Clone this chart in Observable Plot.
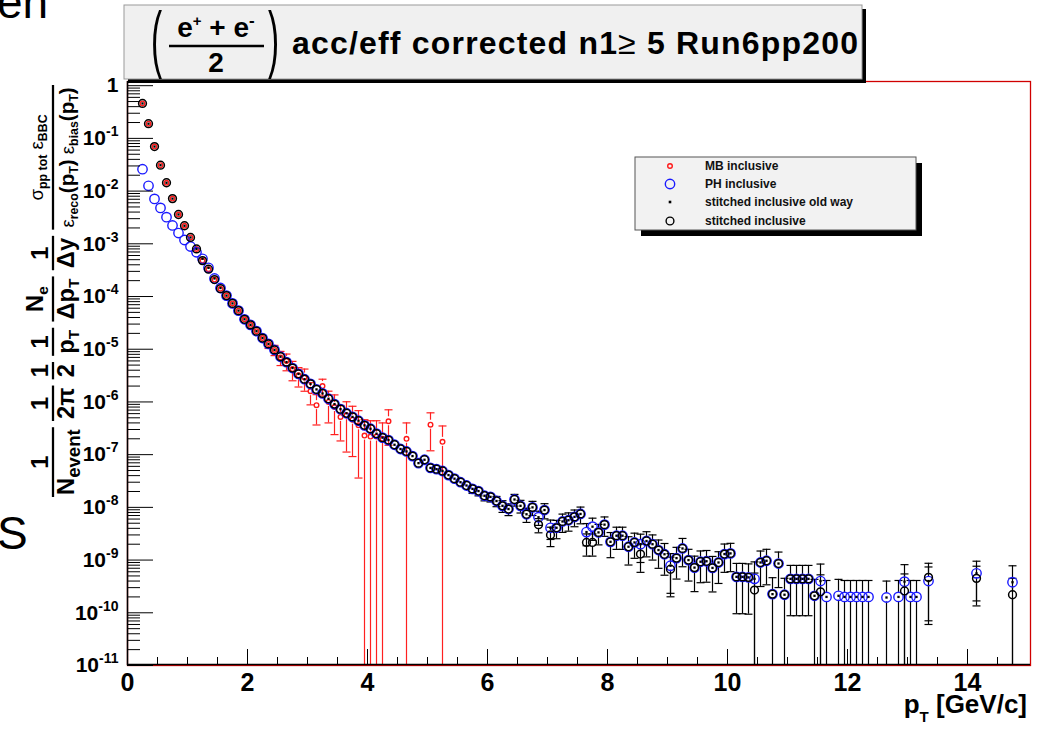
<!DOCTYPE html>
<html><head><meta charset="utf-8">
<script src="https://cdn.jsdelivr.net/npm/d3@7"></script>
<script src="https://cdn.jsdelivr.net/npm/@observablehq/plot@0.6"></script>
<style>
body{margin:0;background:#fff;}
#wrap{position:relative;width:1043px;height:729px;overflow:hidden;}
#wrap svg{position:absolute;left:0;top:0;}
</style></head><body><div id="wrap"></div>
<script>
// ---------------- data ----------------
const pt = [
0.25,0.35,0.45,0.55,0.65,0.75,0.85,0.95,1.05,1.15,
1.25,1.35,1.45,1.55,1.65,1.75,1.85,1.95,2.05,2.15,
2.25,2.35,2.45,2.55,2.65,2.75,2.85,2.95,3.05,3.15,
3.25,3.35,3.45,3.55,3.65,3.75,3.85,3.95,4.05,4.15,
4.25,4.35,4.45,4.55,4.65,4.75,4.85,4.95,5.05,5.15,
5.25,5.35,5.45,5.55,5.65,5.75,5.85,5.95,6.05,6.15,
6.25,6.35,6.45,6.55,6.65,6.75,6.85,6.95,7.05,7.15,
7.25,7.35,7.45,7.55,7.65,7.75,7.85,7.95,8.05,8.15,
8.25,8.35,8.45,8.55,8.65,8.75,8.85,8.95,9.05,9.15,
9.25,9.35,9.45,9.55,9.65,9.75,9.85,9.95,10.05,10.15,
10.25,10.35,10.45,10.55,10.65,10.75,10.85,10.95,11.05,11.15,
11.25,11.35,11.45,11.55,
11.65,11.85,11.95,12.05,12.15,12.25,12.35,12.65,12.85,12.95,13.05,13.15,13.35,14.15,14.75];

const stitchedInclusive = [
4.6e-1,1.9e-1,7.0e-2,3.1e-2,1.44e-2,7.2e-3,3.6e-3,2.2e-3,1.32e-3,8.0e-4,
4.8e-4,3.3e-4,2.1e-4,1.41e-4,1.04e-4,7.4e-5,5.4e-5,3.7e-5,2.9e-5,2.2e-5,
1.63e-5,1.26e-5,9.7e-6,7.2e-6,5.7e-6,4.4e-6,3.4e-6,2.7e-6,2.2e-6,1.73e-6,
1.45e-6,1.15e-6,9.1e-7,7.3e-7,6.1e-7,5.2e-7,4.4e-7,3.6e-7,3.1e-7,2.5e-7,
2.1e-7,1.89e-7,1.54e-7,1.28e-7,1.15e-7,9.4e-8,6.9e-8,8.0e-8,5.6e-8,5.3e-8,
4.9e-8,4.1e-8,3.5e-8,3.0e-8,2.6e-8,2.24e-8,2.04e-8,1.66e-8,1.58e-8,1.32e-8,
1.07e-8,9.3e-9,1.41e-8,1.07e-8,7.4e-9,1.0e-8,4.7e-9,8.9e-9,3.0e-9,4.1e-9,
5.4e-9,5.7e-9,6.6e-9,7.5e-9,2.16e-9,2.16e-9,3.35e-9,4.7e-9,2.22e-9,2.9e-9,
2.9e-9,1.79e-9,2.16e-9,1.3e-9,2.3e-9,2.0e-9,1.55e-9,1.29e-9,6.7e-10,1.09e-9,
1.66e-9,1.0e-9,7.2e-10,9.3e-10,9.5e-10,7.1e-10,9.0e-10,1.3e-9,1.34e-9,4.8e-10,
4.8e-10,4.7e-10,2.7e-10,9.0e-10,9.7e-10,2.26e-10,8.6e-10,2.2e-10,4.4e-10,4.4e-10,
4.4e-10,4.4e-10,2.1e-10,2.5e-10,
null,null,null,null,null,null,null,null,null,2.6e-10,null,null,4.7e-10,4.5e-10,2.2e-10];

const phInclusive = [
2.6e-2,1.26e-2,7.1e-3,4.8e-3,3.2e-3,2.23e-3,1.6e-3,1.18e-3,8.9e-4,6.9e-4,
5.2e-4,3.5e-4,2.2e-4,1.45e-4,1.04e-4,7.4e-5,5.4e-5,3.7e-5,2.9e-5,2.2e-5,
1.63e-5,1.26e-5,9.7e-6,7.2e-6,5.7e-6,4.4e-6,3.4e-6,2.7e-6,2.2e-6,1.73e-6,
1.45e-6,1.15e-6,9.1e-7,7.3e-7,6.1e-7,5.2e-7,4.4e-7,3.6e-7,3.1e-7,2.5e-7,
2.1e-7,1.89e-7,1.54e-7,1.28e-7,1.15e-7,9.4e-8,6.9e-8,8.0e-8,5.6e-8,5.3e-8,
4.9e-8,4.1e-8,3.5e-8,3.0e-8,2.6e-8,2.24e-8,2.04e-8,1.66e-8,1.58e-8,1.32e-8,
1.07e-8,9.3e-9,1.41e-8,1.07e-8,7.4e-9,1.0e-8,6.5e-9,8.9e-9,4.1e-9,4.1e-9,
5.4e-9,5.7e-9,6.6e-9,7.5e-9,3.4e-9,4.3e-9,3.35e-9,4.7e-9,2.22e-9,2.9e-9,
2.9e-9,1.79e-9,2.16e-9,2.0e-9,2.3e-9,2.0e-9,1.55e-9,1.29e-9,7.8e-10,1.09e-9,
1.66e-9,1.0e-9,7.2e-10,9.3e-10,9.5e-10,7.1e-10,9.0e-10,1.3e-9,1.34e-9,4.8e-10,
4.8e-10,4.7e-10,4.4e-10,9.0e-10,9.7e-10,2.26e-10,8.6e-10,2.2e-10,4.4e-10,4.4e-10,
4.4e-10,4.4e-10,2.1e-10,4.0e-10,
2.0e-10,2.1e-10,2.0e-10,2.0e-10,2.0e-10,2.0e-10,2.0e-10,1.95e-10,2.0e-10,3.9e-10,2.0e-10,2.0e-10,4.0e-10,5.6e-10,3.8e-10];

const stitchedOldWay = [
4.6e-1,1.9e-1,7.0e-2,3.1e-2,1.44e-2,7.2e-3,3.6e-3,2.2e-3,1.32e-3,8.0e-4,
5.2e-4,3.5e-4,2.2e-4,1.45e-4,1.04e-4,7.4e-5,5.4e-5,3.7e-5,2.9e-5,2.2e-5,
1.63e-5,1.26e-5,9.7e-6,7.2e-6,5.7e-6,4.4e-6,3.4e-6,2.7e-6,2.2e-6,1.73e-6,
1.45e-6,1.15e-6,9.1e-7,7.3e-7,6.1e-7,5.2e-7,4.4e-7,3.6e-7,3.1e-7,2.5e-7,
2.1e-7,1.89e-7,1.54e-7,1.28e-7,1.15e-7,9.4e-8,6.9e-8,8.0e-8,5.6e-8,5.3e-8,
4.9e-8,4.1e-8,3.5e-8,3.0e-8,2.6e-8,2.24e-8,2.04e-8,1.66e-8,1.58e-8,1.32e-8,
1.07e-8,9.3e-9,1.41e-8,1.07e-8,7.4e-9,1.0e-8,6.5e-9,8.9e-9,4.1e-9,4.1e-9,
5.4e-9,5.7e-9,6.6e-9,7.5e-9,3.4e-9,4.3e-9,3.35e-9,4.7e-9,2.22e-9,2.9e-9,
2.9e-9,1.79e-9,2.16e-9,2.0e-9,2.3e-9,2.0e-9,1.55e-9,1.29e-9,7.8e-10,1.09e-9,
1.66e-9,1.0e-9,7.2e-10,9.3e-10,9.5e-10,7.1e-10,9.0e-10,1.3e-9,1.34e-9,4.8e-10,
4.8e-10,4.7e-10,4.4e-10,9.0e-10,9.7e-10,2.26e-10,8.6e-10,2.2e-10,4.4e-10,4.4e-10,
4.4e-10,4.4e-10,2.1e-10,4.0e-10,
2.0e-10,2.1e-10,2.0e-10,2.0e-10,2.0e-10,2.0e-10,2.0e-10,1.95e-10,2.0e-10,3.9e-10,2.0e-10,2.0e-10,4.0e-10,5.6e-10,3.8e-10];

const mbInclusive = [
4.6e-1,1.9e-1,7.0e-2,3.1e-2,1.44e-2,7.2e-3,3.6e-3,2.2e-3,1.32e-3,8.0e-4,
4.8e-4,3.3e-4,2.1e-4,1.41e-4,1.04e-4,7.4e-5,5.4e-5,3.7e-5,2.9e-5,2.2e-5,
1.63e-5,1.26e-5,9.7e-6,7.0e-6,6.0e-6,4.2e-6,3.2e-6,2.9e-6,1.6e-6,8.7e-7,
2.0e-6,1.0e-6,8.0e-7,5.2e-7,5.6e-7,4.6e-7,3.6e-7,2.3e-7,2.2e-7,2.2e-7,
2.0e-7,4.3e-7,null,null,2.0e-7,null,null,null,3.7e-7,null,
1.75e-7,null,null,null,null,null,null,null,null,null,
null,null,null,null,null,null,null,null,null,null,
null,null,null,null,null,null,null,null,null,null,
null,null,null,null,null,null,null,null,null,null,
null,null,null,null,null,null,null,null,null,null,
null,null,null,null,null,null,null,null,null,null,
null,null,null,null,
null,null,null,null,null,null,null,null,null,null,null,null,null,null,null];

// relative errors (error / value)
const mbRelErr = [
0.01,0.01,0.01,0.01,0.01,0.01,0.01,0.01,0.01,0.01,
0.02,0.02,0.03,0.03,0.04,0.05,0.06,0.08,0.1,0.12,
0.15,0.18,0.22,0.3,0.35,0.4,0.4,0.45,0.45,0.58,
0.35,0.6,0.7,0.65,0.8,0.8,0.9,1.0,1.0,1.0,
1.0,0.65,null,null,1.0,null,null,null,0.68,null,
1.0,null,null,null,null,null,null,null,null,null,
null,null,null,null,null,null,null,null,null,null,
null,null,null,null,null,null,null,null,null,null,
null,null,null,null,null,null,null,null,null,null,
null,null,null,null,null,null,null,null,null,null,
null,null,null,null,null,null,null,null,null,null,
null,null,null,null,
null,null,null,null,null,null,null,null,null,null,null,null,null,null,null];

const stitchedRelErr = [
0.01,0.01,0.01,0.01,0.01,0.01,0.01,0.01,0.01,0.01,
0.01,0.01,0.01,0.01,0.01,0.01,0.01,0.01,0.01,0.01,
0.02,0.02,0.02,0.02,0.02,0.02,0.02,0.02,0.02,0.02,
0.03,0.03,0.04,0.04,0.05,0.05,0.05,0.06,0.06,0.07,
0.07,0.08,0.08,0.09,0.1,0.1,0.11,0.12,0.12,0.13,
0.14,0.15,0.15,0.16,0.17,0.18,0.19,0.2,0.2,0.22,
0.25,0.25,0.25,0.27,0.3,0.3,0.3,0.32,0.4,0.38,
0.38,0.38,0.35,0.35,0.45,0.45,0.42,0.4,0.5,0.45,
0.45,0.55,0.5,0.55,0.5,0.5,0.55,0.6,0.7,0.6,
0.55,0.6,0.65,0.6,0.6,0.65,0.6,0.55,0.55,0.8,
0.8,0.8,1.1,0.65,0.65,1.05,0.65,1.05,0.8,0.8,
0.8,0.8,1.05,1.1,
1.05,1.05,1.05,1.05,1.05,1.05,1.05,1.05,1.05,1.1,1.05,1.05,0.85,0.7,1.05];

const xMajorTicks = [0, 2, 4, 6, 8, 10, 12, 14];
const xMinorTicks = [0.5,1,1.5,2.5,3,3.5,4.5,5,5.5,6.5,7,7.5,8.5,9,9.5,10.5,11,11.5,12.5,13,13.5,14.5];
const yDecadeTicks = [1, 1e-1, 1e-2, 1e-3, 1e-4, 1e-5, 1e-6, 1e-7, 1e-8, 1e-9, 1e-10, 1e-11];
const legendLabels = ["MB inclusive", "PH inclusive", "stitched inclusive old way", "stitched inclusive"];

// ---------------- build ----------------
const FONT = "'Liberation Sans', Arial, Helvetica, sans-serif";
const yMin = 1e-11, yMax = 1.2;
const yMinorTicks = [];
for (const d of yDecadeTicks) for (let m = 2; m <= 9; m++) if (d * m < yMax) yMinorTicks.push(d * m);

const G = Math.pow(10, 0.085); // gap around marker for error bars
function errorBars(vals, rel, keep) {
  const segs = [], caps = [];
  pt.forEach((p, i) => {
    const v = vals[i], r = rel[i];
    if (v == null || r == null || !keep(i)) return;
    const hi = v * (1 + r);
    const lo = r >= 1 ? yMin : v * (1 - r);
    if (hi > v * G) { segs.push({pt: p, y1: v * G, y2: hi}); caps.push({pt: p, y: hi}); }
    if (lo < v / G) { segs.push({pt: p, y1: v / G, y2: lo}); if (r < 1) caps.push({pt: p, y: lo}); }
  });
  return {segs, caps};
}
const series = (vals) => pt.map((p, i) => ({pt: p, v: vals[i]})).filter(d => d.v != null);

const mbErr = errorBars(mbInclusive, mbRelErr, () => true);
const oldErr = errorBars(stitchedOldWay, stitchedRelErr, () => true);
const stErr = errorBars(stitchedInclusive, stitchedRelErr, i => stitchedInclusive[i] !== stitchedOldWay[i]);
const blackSegs = oldErr.segs.concat(stErr.segs), blackCaps = oldErr.caps.concat(stErr.caps);

const capSymbol = {draw(ctx, size) { const w = Math.sqrt(size / Math.PI); ctx.moveTo(-w, 0); ctx.lineTo(w, 0); }};
const fmtY = d => d === 1 ? "1" : "10^" + Math.round(Math.log10(d));

const chart = Plot.plot({
  width: 1043, height: 729,
  marginLeft: 127, marginRight: 13, marginTop: 81, marginBottom: 64,
  style: {fontFamily: FONT, fontWeight: "bold", background: "transparent", color: "black"},
  x: {domain: [0, 15.05]},
  y: {type: "log", domain: [yMin, yMax]},
  marks: [
    Plot.frame({stroke: "#d00000", strokeWidth: 1.3}),
    Plot.ruleX(mbErr.segs, {x: "pt", y1: "y1", y2: "y2", stroke: "#ff2020", strokeWidth: 1.2}),
    Plot.dot(mbErr.caps, {x: "pt", y: "y", symbol: capSymbol, r: 4, stroke: "#ff2020", fill: "none", strokeWidth: 1.2}),
    Plot.ruleX(blackSegs, {x: "pt", y1: "y1", y2: "y2", stroke: "black", strokeWidth: 1.2}),
    Plot.dot(blackCaps, {x: "pt", y: "y", symbol: capSymbol, r: 4, stroke: "black", fill: "none", strokeWidth: 1.2}),
    Plot.dot(series(mbInclusive), {x: "pt", y: "v", r: 2.3, stroke: "#ff1a1a", fill: "none", strokeWidth: 1.4}),
    Plot.dot(series(phInclusive), {x: "pt", y: "v", r: 4.7, stroke: "#1a1aff", fill: "none", strokeWidth: 1.4}),
    Plot.dot(series(stitchedInclusive), {x: "pt", y: "v", r: 3.9, stroke: "black", fill: "none", strokeWidth: 1.5}),
    Plot.dot(series(stitchedOldWay), {x: "pt", y: "v", symbol: "square", r: 1.3, fill: "black", stroke: "none"}),
    Plot.ruleX([0], {stroke: "black", strokeWidth: 1.5}),
    Plot.ruleY([yMin], {stroke: "black", strokeWidth: 1.5, dy: -1}),
    Plot.axisX(xMajorTicks, {tickSize: -16, tickFormat: () => "", label: null}),
    Plot.axisX(xMinorTicks, {tickSize: -8, tickFormat: () => "", label: null}),
    Plot.axisX(xMajorTicks, {tickSize: 0, tickPadding: 8, fontSize: 25, tickFormat: d => String(d), label: null}),
    Plot.axisY(yDecadeTicks, {tickSize: -26, tickFormat: () => "", label: null}),
    Plot.axisY(yMinorTicks, {tickSize: -13, tickFormat: () => "", label: null}),
    Plot.axisY(yDecadeTicks, {tickSize: 0, tickPadding: 9, fontSize: 21, tickFormat: fmtY, label: null})
  ]
});
const wrap = document.getElementById("wrap");
wrap.appendChild(chart);

// superscripts in y tick labels
chart.querySelectorAll("text").forEach(el => {
  const t = el.textContent;
  if (t.includes("^")) {
    const [b, e] = t.split("^");
    el.textContent = "";
    const s = d3.select(el);
    s.append("tspan").text(b);
    s.append("tspan").text(e).attr("font-size", 14).attr("dy", -9);
  }
});

// ---------------- overlay: title, legend, axis titles ----------------
const ov = d3.select(wrap).append("svg").attr("width", 1043).attr("height", 729)
  .style("font-family", FONT).style("pointer-events", "none");

// slide fragments
ov.append("text").attr("x", -3).attr("y", 18).attr("font-size", 46).text("en");
ov.append("text").attr("x", -3).attr("y", 549).attr("font-size", 46).text("S");

// title box
ov.append("rect").attr("x", 128).attr("y", 9).attr("width", 738).attr("height", 74).attr("fill", "black");
ov.append("rect").attr("x", 124).attr("y", 5).attr("width", 738).attr("height", 74).attr("fill", "#f0f0f0").attr("stroke", "#999").attr("stroke-width", 1);
ov.append("text").attr("transform", "translate(151,64) scale(0.45,1)").attr("font-size", 74).text("(");
ov.append("text").attr("transform", "translate(268,64) scale(0.45,1)").attr("font-size", 74).text(")");
const num = ov.append("text").attr("x", 216).attr("y", 37).attr("text-anchor", "middle").attr("font-size", 28).attr("font-weight", "bold");
num.append("tspan").text("e");
num.append("tspan").text("+").attr("font-size", 15).attr("dy", -11);
num.append("tspan").text(" + e").attr("dy", 11);
num.append("tspan").text("-").attr("font-size", 17).attr("dy", -11);
ov.append("line").attr("x1", 169).attr("x2", 264).attr("y1", 46).attr("y2", 46).attr("stroke", "black").attr("stroke-width", 2.5);
ov.append("text").attr("x", 216).attr("y", 72).attr("text-anchor", "middle").attr("font-size", 28).attr("font-weight", "bold").text("2");
const tt = ov.append("text").attr("x", 292).attr("y", 54).attr("font-size", 32).attr("font-weight", "bold")
  .attr("textLength", 566).attr("lengthAdjust", "spacing");
tt.append("tspan").text("acc/eff corrected n1");
tt.append("tspan").text("\u2265").attr("font-weight", "normal");
tt.append("tspan").text(" 5 Run6pp200");

// legend
ov.append("rect").attr("x", 641).attr("y", 163).attr("width", 281).attr("height", 73).attr("fill", "black");
ov.append("rect").attr("x", 635).attr("y", 157).attr("width", 281).attr("height", 73).attr("fill", "#f2f2f2").attr("stroke", "#555").attr("stroke-width", 1);
const rowsY = [166, 184, 202, 221];
ov.append("circle").attr("cx", 670).attr("cy", rowsY[0]).attr("r", 2.3).attr("fill", "none").attr("stroke", "#ff1a1a").attr("stroke-width", 1.4);
ov.append("circle").attr("cx", 670).attr("cy", rowsY[1]).attr("r", 4.7).attr("fill", "none").attr("stroke", "#1a1aff").attr("stroke-width", 1.4);
ov.append("rect").attr("x", 668.7).attr("y", rowsY[2] - 1.3).attr("width", 2.6).attr("height", 2.6).attr("fill", "black");
ov.append("circle").attr("cx", 670).attr("cy", rowsY[3]).attr("r", 3.9).attr("fill", "none").attr("stroke", "black").attr("stroke-width", 1.4);
legendLabels.forEach((s, i) => ov.append("text").attr("x", 705).attr("y", rowsY[i] + 4).attr("font-size", 12).attr("font-weight", "bold").attr("fill", "#111").text(s));

// x axis title
const xt = ov.append("text").attr("x", 1027).attr("y", 713).attr("text-anchor", "end").attr("font-size", 26).attr("font-weight", "bold");
xt.append("tspan").text("p");
xt.append("tspan").text("T").attr("font-size", 15).attr("dy", 9);
xt.append("tspan").text(" [GeV/c]").attr("dy", -9);

// y axis title (rotated)
const STY = {
  b: {size: 23, weight: "bold", shift: 0},
  bs: {size: 15, weight: "bold", shift: 5},
  be: {size: 18, weight: "bold", shift: 6},
  r: {size: 18, weight: "normal", shift: 0},
  rs: {size: 12, weight: "bold", shift: 4},
  p: {size: 20, weight: "bold", shift: 0}
};
const ylOuter = ov.append("g");
const yl = ylOuter.append("g");
function addParts(t, parts) {
  let cur = 0;
  for (const [s, k] of parts) {
    const st = STY[k];
    t.append("tspan").text(s).attr("font-size", st.size).attr("font-weight", st.weight).attr("dy", st.shift - cur);
    cur = st.shift;
  }
}
function frac(u, numParts, denParts) {
  const g = yl.append("g");
  const hasSub = numParts.some(p => p[1] === "bs" || p[1] === "rs");
  const nt = g.append("text").attr("y", hasSub ? -10 : -5); addParts(nt, numParts);
  const dt = g.append("text").attr("y", 20); addParts(dt, denParts);
  const nw = nt.node().getComputedTextLength(), dw = dt.node().getComputedTextLength();
  const w = Math.max(nw, dw) + 4;
  nt.attr("x", u + (w - nw) / 2); dt.attr("x", u + (w - dw) / 2);
  g.append("line").attr("x1", u).attr("x2", u + w).attr("y1", 0).attr("y2", 0).attr("stroke", "black").attr("stroke-width", 2.2);
  return w;
}
let u = 0;
const gap = 6;
u += frac(u, [["1", "b"]], [["N", "b"], ["event", "be"]]) + gap;
u += frac(u, [["1", "b"]], [["2\u03c0", "b"]]) + gap;
u += frac(u, [["1", "b"]], [["2", "b"]]) + gap;
u += frac(u, [["1", "b"]], [["p", "b"], ["T", "bs"]]) + gap;
u += frac(u, [["N", "b"], ["e", "bs"]], [["\u0394p", "b"], ["T", "bs"]]) + gap;
u += frac(u, [["1", "b"]], [["\u0394y", "b"]]) + gap;
u += frac(u, [["\u03c3", "r"], ["pp tot", "rs"], [" \u03b5", "r"], ["BBC", "rs"]],
  [["\u03b5", "r"], ["reco", "rs"], ["(p", "p"], ["T", "rs"], [")", "p"], [" \u03b5", "r"], ["bias", "rs"], ["(p", "p"], ["T", "rs"], [")", "p"]]);
const s = 412 / u;
ylOuter.attr("transform", `translate(53,497) rotate(-90) scale(${s})`);
</script>
</body></html>
